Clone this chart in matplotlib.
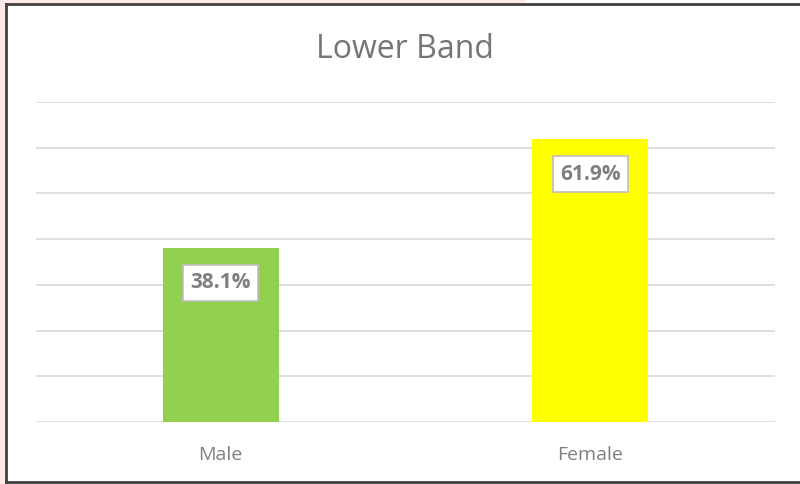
import matplotlib.pyplot as plt
from matplotlib.patches import Rectangle
from matplotlib.lines import Line2D

categories = ['Male', 'Female']
values = [38.1, 61.9]
colors = ['#92d050', '#ffff00']
title = 'Lower Band'

plt.rcParams['font.family'] = ['Open Sans', 'DejaVu Sans']

fig = plt.figure(figsize=(8, 4.84), dpi=100)
fig.patch.set_facecolor('white')

# pinkish background outside the chart frame
fig.add_artist(Rectangle((0, 0), 6 / 800, 1, transform=fig.transFigure,
                         facecolor='#fde9e7', edgecolor='none', zorder=0))
fig.add_artist(Rectangle((0, 1 - 4 / 484), 525 / 800, 4 / 484, transform=fig.transFigure,
                         facecolor='#fde9e7', edgecolor='none', zorder=0))
# dark frame (left, top, bottom)
lc = '#404040'
fig.add_artist(Line2D([6 / 800, 6 / 800], [1 - 482 / 484, 1 - 4 / 484], transform=fig.transFigure, color=lc, lw=2))
fig.add_artist(Line2D([6 / 800, 1], [1 - 4 / 484, 1 - 4 / 484], transform=fig.transFigure, color=lc, lw=2))
fig.add_artist(Line2D([6 / 800, 1], [1 - 482 / 484, 1 - 482 / 484], transform=fig.transFigure, color=lc, lw=2))

ax = fig.add_axes([36 / 800, 1 - 422 / 484, (775 - 36) / 800, (422 - 102) / 484])
x = range(len(categories))
bars = ax.bar(x, values, width=0.315, color=colors, zorder=2)

ax.set_xlim(-0.5, 1.5)
ax.set_ylim(0, 70)
ax.set_yticks(range(0, 71, 10))
ax.yaxis.grid(True, color='#d9d9d9', lw=1.2, zorder=0)
ax.set_axisbelow(True)
ax.tick_params(axis='y', left=False, labelleft=False)
ax.tick_params(axis='x', bottom=False, length=0, pad=17, labelsize=14, labelcolor='#7f7f7f')
ax.set_xticks(list(x))
ax.set_xticklabels(categories)
for s in ax.spines.values():
    s.set_visible(False)

for i, v in enumerate(values):
    ax.annotate(f'{v:.1f}%', (i, v), xytext=(0, -35), textcoords='offset pixels',
                ha='center', va='center', fontsize=15, fontweight='bold', color='#7f7f7f',
                bbox=dict(boxstyle='square,pad=0.35', facecolor='white', edgecolor='#bfbfbf', lw=1.2))

fig.text(405 / 800, 1 - 50 / 484, title, ha='center', va='center', fontsize=23, color='#757575')

fig.savefig('out.png', dpi=100)
